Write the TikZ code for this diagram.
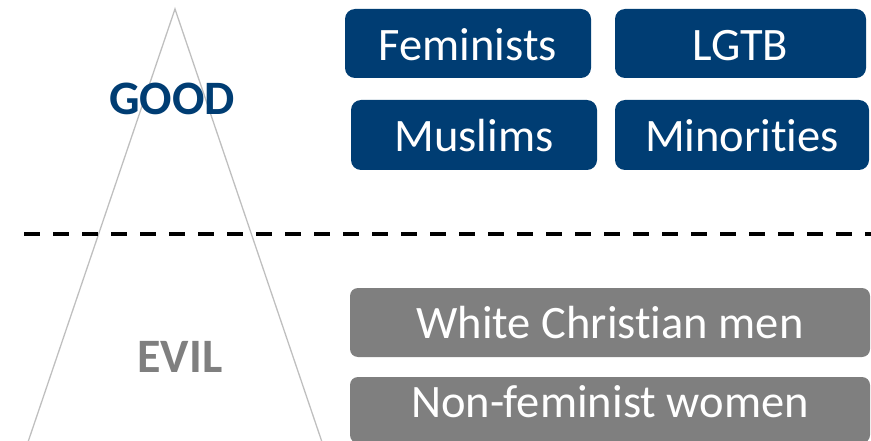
\documentclass[tikz,border=0pt]{standalone}
\usepackage{fontspec}
\setmainfont{Carlito}[Ligatures={NoCommon}]
\definecolor{goodblue}{RGB}{0,61,115}
\definecolor{evilgray}{RGB}{127,127,127}
\definecolor{trigray}{RGB}{191,191,191}
\begin{document}
\begin{tikzpicture}[x=1pt,y=-1pt,
  bluebox/.style={draw=none,fill=goodblue,rounded corners=10pt,inner sep=0pt},
  graybox/.style={draw=none,fill=evilgray,rounded corners=8pt,inner sep=0pt},
  boxtext/.style={text=white,font=\fontsize{46.5}{52}\selectfont,anchor=base,inner sep=0pt},
  biglabel/.style={font=\fontsize{48}{54}\selectfont\bfseries,inner sep=0pt,anchor=base}]
\useasboundingbox (0,0) rectangle (871,441);
\clip (0,0) rectangle (871,441);
% triangle
\coordinate (apex) at (175,9);
\coordinate (bl) at (27,445);
\coordinate (br) at (323,445);
\draw[trigray,line width=1.3pt] (bl) -- (apex) -- (br);
% dashed divider
\coordinate (dl) at (24,234);
\coordinate (dr) at (871,234);
\draw[black,line width=3.8pt,dash pattern=on 16pt off 13pt] (dl) -- (dr);
% labels
\node[biglabel,text=goodblue] (good) at (172,115) {GOOD};
\node[biglabel,text=evilgray] (evil) at (180,372) {EVIL};
% blue boxes
\node[bluebox,minimum width=246pt,minimum height=69pt] (fem) at (468,43.5) {};
\node[boxtext] (femt) at ([yshift=-17.5pt]fem.center) {Feminists};
\node[bluebox,minimum width=251pt,minimum height=69pt] (lgtb) at (740.5,43.5) {};
\node[boxtext] (lgtbt) at ([yshift=-17.5pt]lgtb.center) {LGTB};
\node[bluebox,minimum width=246pt,minimum height=70pt] (mus) at (474,135) {};
\node[boxtext] (must) at ([yshift=-17pt]mus.center) {Muslims};
\node[bluebox,minimum width=254pt,minimum height=70pt] (min) at (742,135) {};
\node[boxtext] (mint) at ([yshift=-17pt]min.center) {Minorities};
% gray boxes
\node[graybox,minimum width=520pt,minimum height=69pt] (wcm) at (610,322.5) {};
\node[boxtext] (wcmt) at ([yshift=-16pt]wcm.center) {White Christian men};
\node[graybox,minimum width=520pt,minimum height=66pt] (nfw) at (610,410) {};
\node[boxtext] (nfwt) at ([yshift=-7pt]nfw.center) {Non-feminist women};
\end{tikzpicture}
\end{document}
